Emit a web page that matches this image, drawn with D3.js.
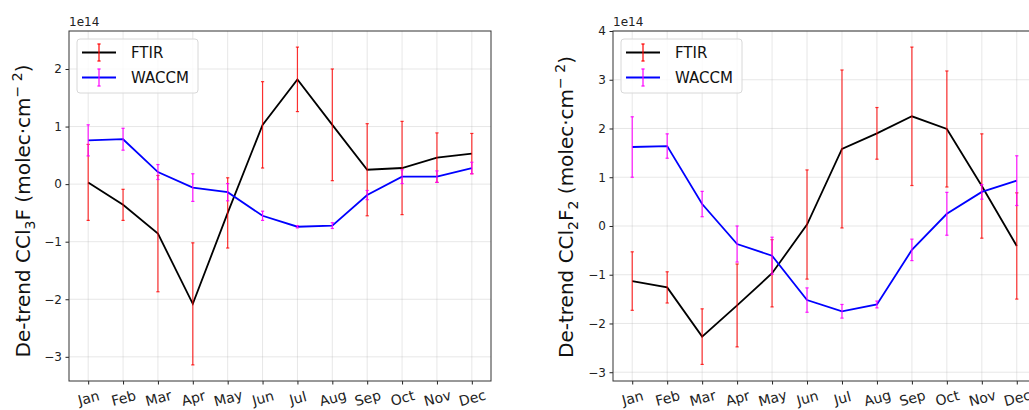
<!DOCTYPE html>
<html>
<head>
<meta charset="utf-8">
<script src="https://cdn.jsdelivr.net/npm/d3@7"></script>
<style>
  body { margin: 0; background: #fff; }
  svg { display: block; font-family: "DejaVu Sans", sans-serif; }
</style>
</head>
<body>
<svg id="chart" width="1029" height="410"></svg>
<script>
// Month labels
const months = ["Jan", "Feb", "Mar", "Apr", "May", "Jun", "Jul", "Aug", "Sep", "Oct", "Nov", "Dec"];

// CCl3F (values in 1e14 molec/cm2)
const ftirCFC11 = [0.03, -0.36, -0.86, -2.08, -0.5, 1.03, 1.82, 1.03, 0.25, 0.28, 0.46, 0.53];
const ftirCFC11Err = [0.66, 0.27, 1.01, 1.06, 0.61, 0.75, 0.56, 0.97, 0.8, 0.81, 0.43, 0.35];
const waccmCFC11 = [0.76, 0.78, 0.21, -0.06, -0.14, -0.55, -0.74, -0.72, -0.19, 0.13, 0.13, 0.28];
const waccmCFC11Err = [0.27, 0.19, 0.13, 0.24, 0.15, 0.08, 0.02, 0.05, 0.08, 0.12, 0.1, 0.1];

// CCl2F2 (values in 1e14 molec/cm2)
const ftirCFC12 = [-1.13, -1.26, -2.27, -1.63, -0.97, 0.03, 1.58, 1.9, 2.25, 1.99, 0.82, -0.41];
const ftirCFC12Err = [0.6, 0.32, 0.57, 0.85, 0.69, 1.12, 1.62, 0.53, 1.42, 1.19, 1.07, 1.09];
const waccmCFC12 = [1.62, 1.64, 0.45, -0.37, -0.61, -1.52, -1.75, -1.61, -0.49, 0.25, 0.7, 0.93];
const waccmCFC12Err = [0.62, 0.25, 0.26, 0.37, 0.38, 0.25, 0.14, 0.07, 0.22, 0.44, 0.15, 0.51];

// Tick values
const ticksCFC11 = [-3, -2, -1, 0, 1, 2];
const ticksCFC12 = [-3, -2, -1, 0, 1, 2, 3, 4];

const svg = d3.select('#chart');

function drawPanel(p) {
    const g = svg.append('g');
    const x = d3.scaleLinear().domain([-0.55, 11.55]).range([p.left, p.right]);
    const y = d3.scaleLinear().domain(p.yDomain).range([p.bottom, p.top]);

    // Grid lines
    g.append('g').selectAll('line')
        .data(months.map((m, i) => i))
        .join('line')
        .attr('x1', d => x(d)).attr('x2', d => x(d))
        .attr('y1', p.top).attr('y2', p.bottom)
        .attr('stroke', '#b0b0b0').attr('stroke-opacity', 0.3).attr('stroke-width', 1);
    g.append('g').selectAll('line')
        .data(p.ticks)
        .join('line')
        .attr('x1', p.left).attr('x2', p.right)
        .attr('y1', d => y(d)).attr('y2', d => y(d))
        .attr('stroke', '#b0b0b0').attr('stroke-opacity', 0.3).attr('stroke-width', 1);

    // Series: line + error bars
    const series = [
        { vals: p.ftir, errs: p.ftirErr, line: '#000', bar: '#ff0000', barOpacity: 0.8 },
        { vals: p.waccm, errs: p.waccmErr, line: '#0000ff', bar: '#ff00ff', barOpacity: 0.9 }
    ];
    const lineGen = d3.line().x((d, i) => x(i)).y(d => y(d));
    series.forEach(s => {
        g.append('path')
            .datum(s.vals)
            .attr('d', lineGen)
            .attr('fill', 'none')
            .attr('stroke', s.line)
            .attr('stroke-width', 1.8);
        const bars = g.append('g')
            .attr('stroke', s.bar)
            .attr('stroke-opacity', s.barOpacity)
            .attr('stroke-width', 1.2);
        s.vals.forEach((v, i) => {
            const y1 = y(v + s.errs[i]), y2 = y(v - s.errs[i]);
            bars.append('line').attr('x1', x(i)).attr('x2', x(i)).attr('y1', y1).attr('y2', y2);
            bars.append('line').attr('x1', x(i) - 1.6).attr('x2', x(i) + 1.6).attr('y1', y1).attr('y2', y1);
            bars.append('line').attr('x1', x(i) - 1.6).attr('x2', x(i) + 1.6).attr('y1', y2).attr('y2', y2);
        });
    });

    // Axes
    const yAxis = d3.axisLeft(y).tickValues(p.ticks).tickSize(3.5).tickPadding(3.5)
        .tickFormat(d3.format('d'));
    const ya = g.append('g').attr('transform', `translate(${p.left},0)`).call(yAxis);
    ya.select('.domain').remove();
    ya.selectAll('text').attr('font-size', 12).attr('fill', '#222')
        .attr('font-family', '"DejaVu Sans", sans-serif');
    ya.selectAll('line').attr('stroke', '#222');

    const xAxis = d3.axisBottom(x).tickValues(months.map((m, i) => i)).tickSize(3.5)
        .tickFormat(i => months[i]);
    const xa = g.append('g').attr('transform', `translate(0,${p.bottom})`).call(xAxis);
    xa.select('.domain').remove();
    xa.selectAll('line').attr('stroke', '#222');
    xa.selectAll('text')
        .attr('font-size', 14).attr('fill', '#222')
        .attr('font-family', '"DejaVu Sans", sans-serif')
        .attr('dy', null).attr('y', 0)
        .attr('dominant-baseline', 'central')
        .attr('text-anchor', 'middle')
        .attr('transform', 'translate(0,17) rotate(-15)');

    // Frame
    g.append('rect')
        .attr('x', p.left).attr('y', p.top)
        .attr('width', p.right - p.left).attr('height', p.bottom - p.top)
        .attr('fill', 'none').attr('stroke', '#333').attr('stroke-width', 1);

    // Offset text
    g.append('text')
        .attr('x', p.left).attr('y', p.top - 5)
        .attr('font-size', 12).attr('fill', '#222')
        .text('1e14');

    // Y label
    const lab = g.append('text')
        .attr('transform', `translate(${p.labelX},${p.labelY}) rotate(-90)`)
        .attr('text-anchor', 'middle')
        .attr('font-size', 20).attr('fill', '#111');
    lab.append('tspan').text('De-trend CCl');
    lab.append('tspan').attr('font-size', 14).attr('dy', 5).text(p.sub1);
    lab.append('tspan').attr('dy', -5).text(p.midText);
    if (p.sub2) {
        lab.append('tspan').attr('font-size', 14).attr('dy', 5).text(p.sub2);
        lab.append('tspan').attr('dy', -5).text(' (molec·cm');
    } else {
        lab.append('tspan').text(' (molec·cm');
    }
    lab.append('tspan').attr('font-size', 14).attr('dy', -8).text('− 2');
    lab.append('tspan').attr('dy', 8).text(')');

    // Legend
    const lg = g.append('g').attr('transform', `translate(${p.left + 8},${p.top + 8})`);
    lg.append('rect')
        .attr('width', 121).attr('height', 54).attr('rx', 3)
        .attr('fill', '#fff').attr('fill-opacity', 0.8)
        .attr('stroke', '#d8d8d8').attr('stroke-width', 1);
    const items = [
        { name: 'FTIR', line: '#000', bar: '#ff0000' },
        { name: 'WACCM', line: '#0000ff', bar: '#ff00ff' }
    ];
    items.forEach((it, k) => {
        const cy = 13.5 + k * 25;
        lg.append('line').attr('x1', 5).attr('x2', 39).attr('y1', cy).attr('y2', cy)
            .attr('stroke', it.line).attr('stroke-width', 1.8);
        lg.append('line').attr('x1', 22).attr('x2', 22).attr('y1', cy - 8.5).attr('y2', cy + 8.5)
            .attr('stroke', it.bar).attr('stroke-width', 1.2);
        lg.append('line').attr('x1', 20.4).attr('x2', 23.6).attr('y1', cy - 8.5).attr('y2', cy - 8.5)
            .attr('stroke', it.bar).attr('stroke-width', 1.2);
        lg.append('line').attr('x1', 20.4).attr('x2', 23.6).attr('y1', cy + 8.5).attr('y2', cy + 8.5)
            .attr('stroke', it.bar).attr('stroke-width', 1.2);
        lg.append('text').attr('x', 54).attr('y', cy).attr('dominant-baseline', 'central')
            .attr('font-size', 15).attr('fill', '#111').text(it.name);
    });
}

drawPanel({
    left: 69, right: 491, top: 31, bottom: 381, yDomain: [-3.42, 2.66],
    ticks: ticksCFC11, labelX: 30, labelY: 211, sub1: '3', midText: 'F', sub2: null,
    ftir: ftirCFC11, ftirErr: ftirCFC11Err, waccm: waccmCFC11, waccmErr: waccmCFC11Err
});

drawPanel({
    left: 613, right: 1036, top: 31, bottom: 381, yDomain: [-3.18, 4],
    ticks: ticksCFC12, labelX: 573, labelY: 207, sub1: '2', midText: 'F', sub2: '2',
    ftir: ftirCFC12, ftirErr: ftirCFC12Err, waccm: waccmCFC12, waccmErr: waccmCFC12Err
});
</script>
</body>
</html>
